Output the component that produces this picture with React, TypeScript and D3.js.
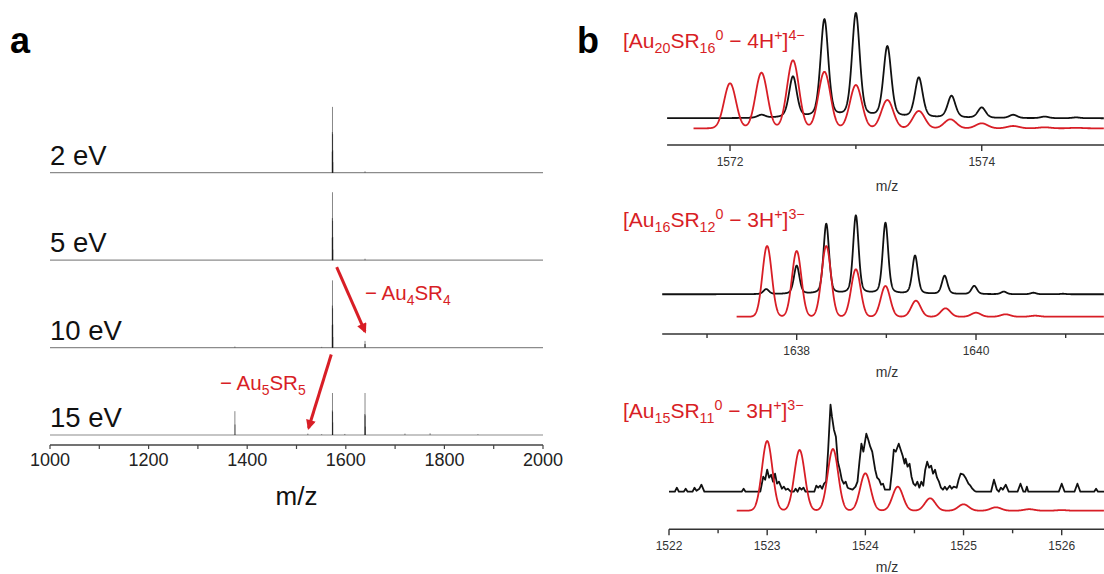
import React from "react";
import * as d3 from "d3";

const RED = "#d81e26";
const FONT = "'Liberation Sans', Arial, Helvetica, sans-serif";

// ---------- Panel a data ----------
const energies = ["2 eV", "5 eV", "10 eV", "15 eV"];
const mzTicksA = [1000, 1200, 1400, 1600, 1800, 2000];
const mzMinorA = [1100, 1300, 1500, 1700, 1900];
const peaks2eV: [number, number][] = [
  [1572.5, 30], [1572.75, 58], [1573.0, 94], [1573.25, 55], [1573.5, 32], [1573.75, 15], [1639, 2],
];
const peaks5eV: [number, number][] = [
  [1572.5, 32], [1572.75, 60], [1573.0, 97], [1573.25, 56], [1573.5, 33], [1573.75, 15], [1639, 2],
];
const peaks10eV: [number, number][] = [
  [1572.5, 32], [1572.75, 60], [1573.0, 96], [1573.25, 56], [1573.5, 33], [1573.75, 15],
  [1638.67, 5], [1639, 9.5], [1639.33, 5], [1375, 1.5], [1551, 1],
];
const peaks15eV: [number, number][] = [
  [1572.75, 35], [1573.0, 60], [1573.25, 33], [1573.5, 18],
  [1638.67, 30], [1639, 60], [1639.33, 28], [1639.67, 12],
  [1375, 34], [1375.33, 15], [1523, 2], [1551, 1], [1598, 1.5], [1720, 2], [1771, 2.5], [1868, 1],
];
const spectraA = [peaks2eV, peaks5eV, peaks10eV, peaks15eV];

// ---------- Panel b data (peak centroid m/z, height) ----------
const blackTop: [number, number][] = [
  [1572.25, 3], [1572.5, 41], [1572.75, 98], [1573.0, 104], [1573.25, 71], [1573.5, 40],
  [1573.76, 22], [1574.0, 10.5], [1574.25, 3.3], [1574.5, 1.6], [1574.75, 0.8],
];
const redTop: [number, number][] = [
  [1572.0, 45], [1572.25, 55.6], [1572.5, 68], [1572.75, 56.5], [1573.0, 43.3], [1573.25, 28.3],
  [1573.5, 17.3], [1573.75, 9], [1574.0, 5], [1574.25, 2.3], [1574.5, 1], [1574.75, 0.5],
];
const blackMid: [number, number][] = [
  [1637.66, 5], [1638.0, 28.3], [1638.33, 70], [1638.66, 78.3], [1638.99, 71], [1639.32, 38.3],
  [1639.65, 18.3], [1639.98, 8.3], [1640.31, 2.6], [1640.64, 1.5], [1640.97, 0.5],
];
const redMid: [number, number][] = [
  [1637.67, 70.7], [1638.0, 65.7], [1638.33, 70.7], [1638.66, 47.4], [1638.99, 30.7],
  [1639.33, 16], [1639.66, 8.4], [1640.0, 4], [1640.33, 2.4], [1640.66, 1],
];
const redBot: [number, number][] = [
  [1523.0, 69.7], [1523.33, 60.7], [1523.67, 61.7], [1524.0, 37.4], [1524.33, 24],
  [1524.66, 12.4], [1525.0, 6.4], [1525.33, 3.4], [1525.67, 1.5], [1526.0, 0.6],
];
// measured (noisy) trace, read point by point
const blackBot: [number, number][] = [
  [1522.0, 0], [1522.06, 0], [1522.08, 4], [1522.1, 0], [1522.15, 0], [1522.17, 3], [1522.19, 0],
  [1522.24, 0], [1522.26, 4], [1522.28, 1], [1522.31, 3], [1522.33, 7], [1522.36, 0],
  [1522.74, 0], [1522.76, 3], [1522.78, 0],
  [1522.93, 0], [1522.96, 15], [1522.98, 12], [1523.0, 22], [1523.02, 14], [1523.04, 17], [1523.06, 10],
  [1523.08, 18], [1523.1, 8], [1523.12, 10], [1523.15, 3], [1523.17, 5], [1523.19, 2], [1523.21, 3],
  [1523.24, 0], [1523.27, 0], [1523.29, 3], [1523.31, 0], [1523.33, 4], [1523.35, 2], [1523.37, 4],
  [1523.39, 0], [1523.48, 0], [1523.5, 6], [1523.52, 4], [1523.54, 6], [1523.56, 3], [1523.58, 8],
  [1523.6, 10], [1523.62, 40], [1523.645, 87], [1523.66, 75], [1523.68, 62], [1523.7, 55],
  [1523.72, 30], [1523.74, 22], [1523.76, 12], [1523.78, 8], [1523.8, 10], [1523.82, 4], [1523.84, 3],
  [1523.87, 2], [1523.9, 5], [1523.92, 10], [1523.94, 30], [1523.96, 48], [1523.98, 40], [1524.01, 58],
  [1524.03, 52], [1524.05, 45], [1524.07, 40], [1524.09, 28], [1524.1, 22], [1524.12, 14], [1524.14, 12],
  [1524.16, 7], [1524.18, 8], [1524.2, 2], [1524.25, 2], [1524.27, 20], [1524.29, 42], [1524.31, 40],
  [1524.34, 48], [1524.36, 42], [1524.38, 36], [1524.4, 28], [1524.41, 33], [1524.43, 25], [1524.45, 28],
  [1524.47, 15], [1524.49, 8], [1524.51, 6], [1524.53, 10], [1524.55, 4], [1524.57, 10], [1524.59, 6],
  [1524.61, 22], [1524.63, 30], [1524.65, 24], [1524.67, 26], [1524.69, 18], [1524.71, 22], [1524.73, 14],
  [1524.75, 10], [1524.77, 4], [1524.79, 2], [1524.81, 5], [1524.83, 2], [1524.86, 6], [1524.88, 3],
  [1524.9, 5], [1524.93, 4], [1524.95, 12], [1524.97, 18], [1525.0, 17], [1525.02, 14], [1525.05, 8],
  [1525.07, 6], [1525.09, 3], [1525.11, 1], [1525.13, 0],
  [1525.28, 0], [1525.31, 12], [1525.34, 2], [1525.36, 0], [1525.38, 4], [1525.4, 2], [1525.43, 7], [1525.46, 0],
  [1525.55, 0], [1525.58, 8], [1525.61, 0], [1525.63, 0], [1525.645, 5], [1525.66, 0],
  [1525.97, 0], [1526.0, 8], [1526.03, 0], [1526.13, 0], [1526.16, 8], [1526.19, 0],
  [1526.33, 0], [1526.35, 3], [1526.37, 0], [1526.5, 0],
];

type Part = { s: string; t: "n" | "sub" | "sup" };
const labelTop: Part[] = [
  { s: "[Au", t: "n" }, { s: "20", t: "sub" }, { s: "SR", t: "n" }, { s: "16", t: "sub" }, { s: "0", t: "sup" },
  { s: " − 4H", t: "n" }, { s: "+", t: "sup" }, { s: "]", t: "n" }, { s: "4−", t: "sup" },
];
const labelMid: Part[] = [
  { s: "[Au", t: "n" }, { s: "16", t: "sub" }, { s: "SR", t: "n" }, { s: "12", t: "sub" }, { s: "0", t: "sup" },
  { s: " − 3H", t: "n" }, { s: "+", t: "sup" }, { s: "]", t: "n" }, { s: "3−", t: "sup" },
];
const labelBot: Part[] = [
  { s: "[Au", t: "n" }, { s: "15", t: "sub" }, { s: "SR", t: "n" }, { s: "11", t: "sub" }, { s: "0", t: "sup" },
  { s: " − 3H", t: "n" }, { s: "+", t: "sup" }, { s: "]", t: "n" }, { s: "3−", t: "sup" },
];
const lossAu4: Part[] = [{ s: "− Au", t: "n" }, { s: "4", t: "sub" }, { s: "SR", t: "n" }, { s: "4", t: "sub" }];
const lossAu5: Part[] = [{ s: "− Au", t: "n" }, { s: "5", t: "sub" }, { s: "SR", t: "n" }, { s: "5", t: "sub" }];

// ---------- helpers ----------
const gauss = (d: number, s: number) => Math.exp((-d * d) / (2 * s * s));
const pvoigt = (d: number, s: number, eta: number) => {
  const g = s * 1.1774;
  return (1 - eta) * gauss(d, s) + eta / (1 + (d / g) * (d / g));
};
function profile(sticks: [number, number][], s: number, eta: number, from: number, to: number): [number, number][] {
  return d3.range(from, to, 0.002).map((m) => [m, d3.sum(sticks, ([c, h]) => h * pvoigt(m - c, s, eta))] as [number, number]);
}

function Rich({ x, y, parts, size, fill, anchor }: { x: number; y: number; parts: Part[]; size: number; fill: string; anchor?: string }) {
  let cur = 0;
  return (
    <text x={x} y={y} fontSize={size} fill={fill} fontFamily={FONT} textAnchor={anchor || "start"}>
      {parts.map((p, i) => {
        const target = p.t === "sub" ? size * 0.25 : p.t === "sup" ? -size * 0.4 : 0;
        const dy = target - cur;
        cur = target;
        return (
          <tspan key={i} dy={dy} fontSize={p.t === "n" ? size : size * 0.68}>
            {p.s}
          </tspan>
        );
      })}
    </text>
  );
}

const W = 1104;
const H = 574;

const panelsB = [
  {
    label: labelTop, labelY: 48, domain: [1571.5, 1575.0], range: [667.1, 1107.6],
    axisY: 145, blackY: 118.3, redY: 128.3, redStart: 1571.71,
    black: blackTop, red: redTop, sRed: 0.047, sBlack: 0.031, noisy: false,
    major: [1572, 1574], minor: [1573, 1575], mzY: 191,
  },
  {
    label: labelMid, labelY: 227, domain: [1636.5, 1641.5], range: [662.2, 1110.5],
    axisY: 334, blackY: 294.3, redY: 316.7, redStart: 1637.33,
    black: blackMid, red: redMid, sRed: 0.052, sBlack: 0.031, noisy: false,
    major: [1638, 1640], minor: [1637, 1639, 1641], mzY: 377,
  },
  {
    label: labelBot, labelY: 418, domain: [1522.0, 1526.5], range: [669, 1110.8],
    axisY: 529.3, blackY: 491.7, redY: 510.7, redStart: 1522.69,
    black: blackBot, red: redBot, sRed: 0.053, sBlack: 0.03, noisy: true,
    major: [1522, 1523, 1524, 1525, 1526], minor: [1522.5, 1523.5, 1524.5, 1525.5, 1526.5], mzY: 572,
  },
];

export default function App() {
  const xA = d3.scaleLinear().domain([1000, 2000]).range([50, 543]);
  const yBase = d3.scalePoint<string>().domain(energies).range([172.7, 435]);
  const hA = d3.scaleLinear().domain([0, 100]).range([0, 70]);
  const hB = d3.scaleLinear().domain([0, 100]).range([0, 100]);
  const axisYA = 445;

  // annotation arrows anchored to data coordinates
  const arrow1 = {
    x1: xA(1581.5), y1: (yBase("5 eV") as number) + 7,
    x2: xA(1639), y2: (yBase("10 eV") as number) - 16,
  };
  const arrow2 = {
    x1: xA(1570.5), y1: (yBase("10 eV") as number) + 7,
    x2: xA(1524.5), y2: (yBase("15 eV") as number) - 7,
  };

  return (
    <svg width={W} height={H} style={{ position: "absolute", left: 0, top: 0, background: "#fff" }} fontFamily={FONT}>
      <defs>
        <marker id="ah" viewBox="0 0 10 10" refX={8} refY={5} markerWidth={11} markerHeight={10}
          markerUnits="userSpaceOnUse" orient="auto">
          <path d="M0,0 L10,5 L0,10 z" fill={RED} />
        </marker>
      </defs>
      <rect x={0} y={0} width={W} height={H} fill="#fff" />

      {/* panel letters */}
      <text x={10} y={53} fontSize={36} fontWeight="bold" fill="#000">a</text>
      <text x={577} y={53} fontSize={36} fontWeight="bold" fill="#000">b</text>

      {/* ---------- Panel a ---------- */}
      {energies.map((e, i) => {
        const b = yBase(e) as number;
        return (
          <g key={e}>
            <line x1={xA(1000)} x2={xA(2000)} y1={b} y2={b} stroke="#8c8c8c" strokeWidth={1.2} />
            {spectraA[i].map(([m, h], j) => (
              <line key={j} x1={xA(m)} x2={xA(m)} y1={b} y2={b - hA(h)} stroke="#111" strokeOpacity={0.5} strokeWidth={1} />
            ))}
            <text x={50} y={b - 8} fontSize={27.5} fill="#111">{e}</text>
          </g>
        );
      })}
      {/* axis a */}
      <line x1={xA(1000)} x2={xA(2000)} y1={axisYA} y2={axisYA} stroke="#444" strokeWidth={1.3} />
      {mzTicksA.concat(mzMinorA).map((t) => (
        <line key={t} x1={xA(t)} x2={xA(t)} y1={axisYA} y2={axisYA + 4} stroke="#444" strokeWidth={1.2} />
      ))}
      {mzTicksA.map((t) => (
        <text key={t} x={xA(t)} y={466} fontSize={18} textAnchor="middle" fill="#222">{t}</text>
      ))}
      <text x={xA(1500)} y={505} fontSize={26} textAnchor="middle" fill="#111">m/z</text>

      {/* arrows + annotations */}
      <line x1={arrow1.x1} y1={arrow1.y1} x2={arrow1.x2} y2={arrow1.y2} stroke={RED} strokeWidth={3} markerEnd="url(#ah)" />
      <line x1={arrow2.x1} y1={arrow2.y1} x2={arrow2.x2} y2={arrow2.y2} stroke={RED} strokeWidth={3} markerEnd="url(#ah)" />
      <Rich x={365} y={300} parts={lossAu4} size={20.5} fill={RED} />
      <Rich x={220} y={390} parts={lossAu5} size={20.5} fill={RED} />

      {/* ---------- Panel b ---------- */}
      {panelsB.map((p, i) => {
        const x = d3.scaleLinear().domain(p.domain).range(p.range);
        const xEnd = x.invert(W);
        const blackPts = p.noisy ? p.black : profile(p.black, p.sBlack, 0.35, p.domain[0], xEnd);
        const redPts = profile(p.red, p.sRed, 0, p.redStart, xEnd);
        const lineB = d3.line<[number, number]>().x((d) => x(d[0])).y((d) => p.blackY - hB(d[1]));
        const lineR = d3.line<[number, number]>().x((d) => x(d[0])).y((d) => p.redY - hB(d[1]));
        return (
          <g key={i}>
            <path d={lineB(blackPts) || ""} fill="none" stroke="#111" strokeWidth={1.8} strokeLinejoin="round" />
            <path d={lineR(redPts) || ""} fill="none" stroke={RED} strokeWidth={1.8} strokeLinejoin="round" />
            <line x1={p.range[0]} x2={W} y1={p.axisY} y2={p.axisY} stroke="#333" strokeWidth={1.5} />
            {p.major.map((t) => (
              <line key={"M" + t} x1={x(t)} x2={x(t)} y1={p.axisY} y2={p.axisY + 6} stroke="#333" strokeWidth={1.4} />
            ))}
            {p.minor.map((t) => (
              <line key={"m" + t} x1={x(t)} x2={x(t)} y1={p.axisY} y2={p.axisY + 4} stroke="#333" strokeWidth={1.4} />
            ))}
            {p.major.map((t) => (
              <text key={"L" + t} x={x(t)} y={p.axisY + 21} fontSize={12} textAnchor="middle" fill="#333">{t}</text>
            ))}
            <text x={887} y={p.mzY} fontSize={14} textAnchor="middle" fill="#333">m/z</text>
            <Rich x={623} y={p.labelY} parts={p.label} size={21} fill={RED} />
          </g>
        );
      })}
    </svg>
  );
}
